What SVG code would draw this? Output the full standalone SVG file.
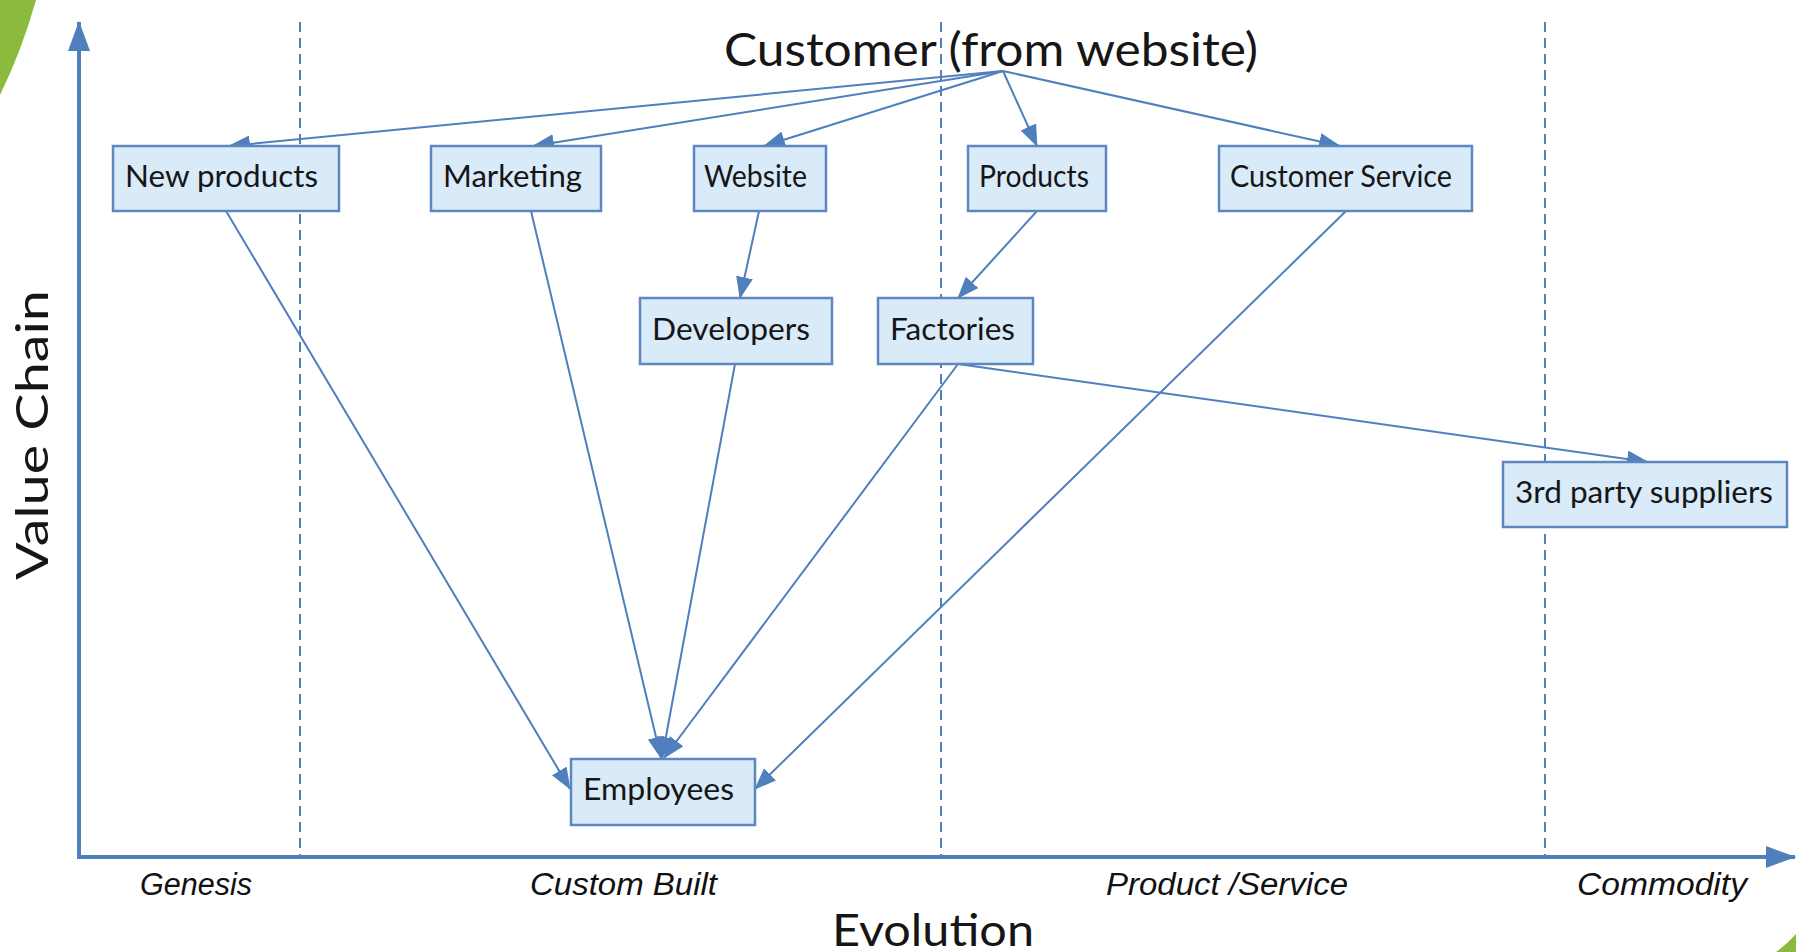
<svg xmlns="http://www.w3.org/2000/svg" width="1796" height="952" viewBox="0 0 1796 952">
<style>
.box{fill:#d9eaf9;stroke:#5f87bf;stroke-width:2.5}
.lbl{font-family:Lato,"Noto Sans",sans-serif;font-size:30px;fill:#161616}
.big{font-family:Lato,"Noto Sans",sans-serif;fill:#161616}
.ital{font-family:"Liberation Sans",Arial,sans-serif;font-style:italic;font-size:31px;fill:#111}
.edge{stroke:#4f7fbd;stroke-width:2;fill:none;marker-end:url(#ah)}
.axis{stroke:#4f7fbd;stroke-width:4;fill:none}
.dash{stroke:#4f7fbd;stroke-width:2;stroke-dasharray:10 6;fill:none}
</style>
<defs>
<marker id="ah" markerUnits="userSpaceOnUse" markerWidth="22" markerHeight="17" refX="21" refY="8.5" orient="auto">
<path d="M0,0 L22,8.5 L0,17 Z" fill="#4f7fbd"/>
</marker>
<marker id="axh" markerUnits="userSpaceOnUse" markerWidth="30" markerHeight="22" refX="29" refY="11" orient="auto">
<path d="M0,0 L30,11 L0,22 Z" fill="#4f7fbd"/>
</marker>
</defs>
<rect width="1796" height="952" fill="#ffffff"/>
<path d="M0,0 L36,0 Q22,50 0,95 Z" fill="#8cba3e"/>
<path d="M1796,934 Q1787,944 1776,952 L1796,952 Z" fill="#8cba3e"/>
<g id="axes">
<line class="dash" x1="300" y1="22" x2="300" y2="857"/>
<line class="dash" x1="941" y1="22" x2="941" y2="857"/>
<line class="dash" x1="1545" y1="22" x2="1545" y2="857"/>
<line class="axis" x1="79" y1="859" x2="79" y2="22" marker-end="url(#axh)"/>
<line class="axis" x1="77" y1="857" x2="1795" y2="857" marker-end="url(#axh)"/>
<text class="big" font-size="44" transform="translate(48,435) rotate(-90)" text-anchor="middle" textLength="290" lengthAdjust="spacingAndGlyphs">Value Chain</text>
<text class="big" font-size="44" x="832" y="946" textLength="202" lengthAdjust="spacingAndGlyphs">Evolution</text>
<text class="ital" x="140" y="895" textLength="112" lengthAdjust="spacingAndGlyphs">Genesis</text>
<text class="ital" x="530" y="895" textLength="187" lengthAdjust="spacingAndGlyphs">Custom Built</text>
<text class="ital" x="1106" y="895" textLength="242" lengthAdjust="spacingAndGlyphs">Product /Service</text>
<text class="ital" x="1577" y="895" textLength="170" lengthAdjust="spacingAndGlyphs">Commodity</text>
</g>
<g id="connectors">
<line class="edge" x1="1003" y1="71" x2="229" y2="146"/>
<line class="edge" x1="1003" y1="71" x2="533" y2="146"/>
<line class="edge" x1="1003" y1="71" x2="764" y2="146"/>
<line class="edge" x1="1003" y1="71" x2="1037" y2="146"/>
<line class="edge" x1="1003" y1="71" x2="1340" y2="146"/>
<line class="edge" x1="759" y1="211" x2="740" y2="298"/>
<line class="edge" x1="1037" y1="211" x2="958" y2="298"/>
<line class="edge" x1="226" y1="211" x2="570" y2="789"/>
<line class="edge" x1="531" y1="211" x2="661" y2="758"/>
<line class="edge" x1="735" y1="364" x2="662" y2="758"/>
<line class="edge" x1="958" y1="364" x2="664" y2="758"/>
<line class="edge" x1="1346" y1="211" x2="755" y2="789"/>
<line class="edge" x1="958" y1="364" x2="1648" y2="462"/>
</g>
<g id="customer">
<text class="big" font-size="46" x="724" y="66" textLength="534" lengthAdjust="spacingAndGlyphs">Customer (from website)</text>
</g>
<g id="new-products"><rect class="box" x="113" y="146" width="226" height="65"/><text class="lbl" x="125" y="187" textLength="193" lengthAdjust="spacingAndGlyphs">New products</text></g>
<g id="marketing"><rect class="box" x="431" y="146" width="170" height="65"/><text class="lbl" x="443" y="187" textLength="139" lengthAdjust="spacingAndGlyphs">Marketing</text></g>
<g id="website"><rect class="box" x="694" y="146" width="132" height="65"/><text class="lbl" x="704" y="187" textLength="103" lengthAdjust="spacingAndGlyphs">Website</text></g>
<g id="products"><rect class="box" x="968" y="146" width="138" height="65"/><text class="lbl" x="979" y="187" textLength="110" lengthAdjust="spacingAndGlyphs">Products</text></g>
<g id="customer-service"><rect class="box" x="1219" y="146" width="253" height="65"/><text class="lbl" x="1230" y="187" textLength="222" lengthAdjust="spacingAndGlyphs">Customer Service</text></g>
<g id="developers"><rect class="box" x="640" y="298" width="192" height="66"/><text class="lbl" x="652" y="340" textLength="158" lengthAdjust="spacingAndGlyphs">Developers</text></g>
<g id="factories"><rect class="box" x="878" y="298" width="155" height="66"/><text class="lbl" x="890" y="340" textLength="125" lengthAdjust="spacingAndGlyphs">Factories</text></g>
<g id="third-party"><rect class="box" x="1503" y="462" width="284" height="65"/><text class="lbl" x="1515" y="503" textLength="258" lengthAdjust="spacingAndGlyphs">3rd party suppliers</text></g>
<g id="employees"><rect class="box" x="571" y="759" width="184" height="66"/><text class="lbl" x="583" y="800" textLength="151" lengthAdjust="spacingAndGlyphs">Employees</text></g>
</svg>
